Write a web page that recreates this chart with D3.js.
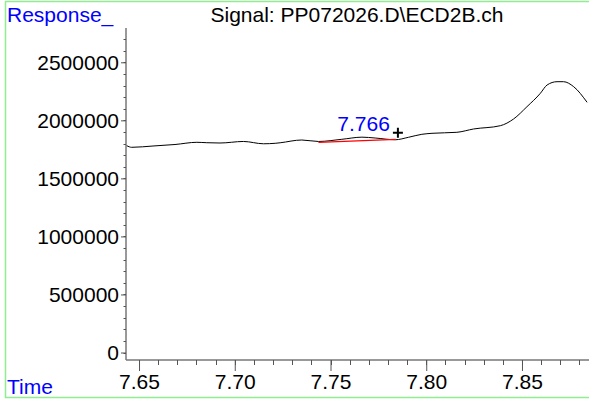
<!DOCTYPE html>
<html><head><meta charset="utf-8">
<script src="https://cdn.jsdelivr.net/npm/d3@7"></script>
<style>
html,body{margin:0;padding:0;background:#fff;}
svg{display:block;font-family:"Liberation Sans",Arial,sans-serif;}
</style></head>
<body>
<svg id="chart" width="589" height="400"></svg>
<script>
// ---- data ----
const times = [7.6436, 7.6462, 7.6573, 7.6688, 7.6802, 7.6854, 7.6923, 7.7045, 7.7150, 7.7211, 7.7237, 7.7350, 7.7437, 7.7559, 7.7664, 7.7733, 7.7838, 7.7907, 7.7977, 7.8030, 7.8160, 7.8247, 7.8387, 7.8456, 7.8526, 7.8596, 7.8631, 7.8683, 7.8717, 7.8770, 7.8840];
const responses = [1781600, 1767800, 1779000, 1791900, 1810900, 1807400, 1804800, 1818100, 1798200, 1802300, 1806800, 1830700, 1818000, 1836700, 1855100, 1847900, 1832700, 1853900, 1879800, 1888400, 1897000, 1925500, 1953900, 2011600, 2117600, 2233000, 2304500, 2333000, 2333000, 2289900, 2155500];
const xTickValues = [7.65, 7.70, 7.75, 7.80, 7.85];
const xTickLabels = ["7.65", "7.70", "7.75", "7.80", "7.85"];
const yTickValues = [0, 500000, 1000000, 1500000, 2000000, 2500000];
const yTickLabels = ["0", "500000", "1000000", "1500000", "2000000", "2500000"];
const baselineTimes = [7.7437, 7.7841];
const baselineValues = [1810900, 1836700];
const peakTime = [7.7852];
const peakValue = [1893600];
const peakLabel = ["7.766"];
const titleText = "Signal: PP072026.D\\ECD2B.ch";
const yAxisTitle = "Response_";
const xAxisTitle = "Time";

// ---- layout ----
const svg = d3.select("#chart");
const x = d3.scaleLinear().domain([7.6432, 7.885]).range([126, 589]);
const y = d3.scaleLinear().domain([-64600, 2795600]).range([360, 28]);
const FS = 21;

// frame
svg.append("rect").attr("x", 5.5).attr("y", 1.5).attr("width", 600).attr("height", 396)
  .attr("fill", "none").attr("stroke", "#90ee90").attr("stroke-width", 1.5);

// y axis
const yMinor = d3.range(0, 2800001, 100000);
const yAxisG = svg.append("g").attr("transform", "translate(126,0)");
yAxisG.append("line").attr("x1", 0).attr("x2", 0).attr("y1", y.range()[1]).attr("y2", y.range()[0])
  .attr("stroke", "#777").attr("stroke-width", 1.5);
yAxisG.selectAll("line.minor").data(yMinor.filter(v => y(v) >= 28)).join("line")
  .attr("class", "minor").attr("x1", -2.5).attr("x2", 0)
  .attr("y1", d => Math.round(y(d)) + 0.5).attr("y2", d => Math.round(y(d)) + 0.5)
  .attr("stroke", "#555");
const yAx = d3.axisLeft(y).tickValues(yTickValues).tickFormat((d, i) => yTickLabels[i]).tickSize(5).tickPadding(2);
const yg = svg.append("g").attr("transform", "translate(126,0)").call(yAx);
yg.select(".domain").remove();
yg.selectAll(".tick line").attr("stroke", "#555");
yg.selectAll(".tick text").attr("font-size", FS).attr("fill", "#000").attr("font-family", "Liberation Sans, Arial, sans-serif");

// x axis
const xMinor = d3.range(7.65, 7.8801, 0.01);
const xAxisG = svg.append("g").attr("transform", "translate(0,360)");
xAxisG.append("line").attr("x1", 126).attr("x2", 589).attr("y1", 0).attr("y2", 0)
  .attr("stroke", "#777").attr("stroke-width", 1.5);
xAxisG.selectAll("line.minor").data(xMinor).join("line")
  .attr("class", "minor").attr("y1", 0).attr("y2", 5)
  .attr("x1", d => Math.round(x(d)) + 0.5).attr("x2", d => Math.round(x(d)) + 0.5)
  .attr("stroke", "#555");
const xAx = d3.axisBottom(x).tickValues(xTickValues).tickFormat((d, i) => xTickLabels[i]).tickSize(11).tickPadding(3);
const xg = svg.append("g").attr("transform", "translate(0,360)").call(xAx);
xg.select(".domain").remove();
xg.selectAll(".tick line").attr("stroke", "#555");
xg.selectAll(".tick text").attr("font-size", FS).attr("fill", "#000").attr("font-family", "Liberation Sans, Arial, sans-serif");

// titles
svg.append("text").attr("x", 7).attr("y", 22).attr("fill", "#0000ff").attr("font-size", FS).text(yAxisTitle);
svg.append("text").attr("x", 357).attr("y", 22).attr("text-anchor", "middle").attr("fill", "#000").attr("font-size", FS).text(titleText);
svg.append("text").attr("x", 7).attr("y", 394).attr("fill", "#0000ff").attr("font-size", FS).text(xAxisTitle);

// signal
const pts = times.map((t, i) => [t, responses[i]]);
svg.append("path").datum(pts)
  .attr("d", d3.line().x(d => x(d[0])).y(d => y(d[1])).curve(d3.curveMonotoneX))
  .attr("fill", "none").attr("stroke", "#000").attr("stroke-width", 1);

// integration baseline
svg.append("line")
  .attr("x1", x(baselineTimes[0])).attr("y1", y(baselineValues[0]))
  .attr("x2", x(baselineTimes[1])).attr("y2", y(baselineValues[1]))
  .attr("stroke", "#ff0000").attr("stroke-width", 1.2);

// peak marker and label
const px = x(peakTime[0]), py = y(peakValue[0]);
svg.append("path").attr("d", `M${px-5},${py}H${px+5}M${px},${py-5}V${py+5}`)
  .attr("stroke", "#000").attr("stroke-width", 2);
svg.append("text").attr("x", px - 8).attr("y", py - 2).attr("text-anchor", "end")
  .attr("fill", "#0000ff").attr("font-size", FS).text(peakLabel[0]);
</script>
</body></html>
